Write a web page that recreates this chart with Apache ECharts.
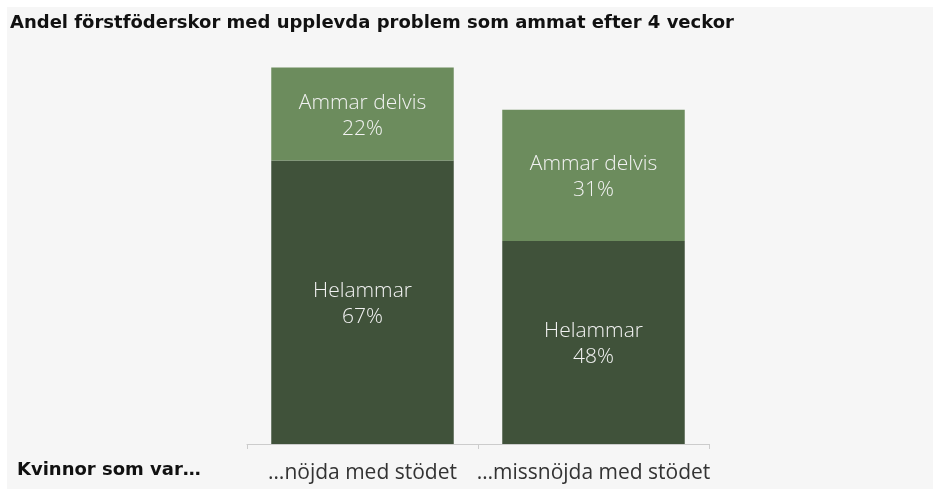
<!DOCTYPE html>
<html>
<head>
<meta charset="utf-8">
<style>
  html, body { margin: 0; padding: 0; background: #ffffff; }
  #chart { width: 933px; height: 502px; }
</style>
<script src="https://cdn.jsdelivr.net/npm/echarts@6/dist/echarts.min.js"></script>
</head>
<body>
<div id="chart"></div>
<script>
// Stödgrupper (x-axeln)
const categories = ['…nöjda med stödet', '…missnöjda med stödet'];
// Andel (%) som helammar respektive ammar delvis
const helammar = [67, 48];
const ammarDelvis = [22, 31];
const seriesNames = ['Helammar', 'Ammar delvis'];

const chart = echarts.init(document.getElementById('chart'));

const segLabel = {
  show: true,
  position: 'inside',
  offset: [0, 2],
  color: '#f2f2f2',
  fontFamily: 'Open Sans',
  fontWeight: 300,
  fontSize: 21,
  lineHeight: 26,
  formatter: p => p.seriesName + '\n' + p.value + '%'
};

chart.setOption({
  backgroundColor: '#ffffff',
  animation: false,
  graphic: [
    {
      type: 'rect', z: -10, silent: true,
      shape: { x: 7, y: 7, width: 926, height: 482 },
      style: { fill: '#f6f6f6' }
    },
    {
      type: 'text', left: 17, top: 461,
      style: { text: 'Kvinnor som var…', fontFamily: 'DejaVu Sans', fontWeight: 'bold', fontSize: 18, fill: '#111111' }
    }
  ],
  title: {
    text: 'Andel förstföderskor med upplevda problem som ammat efter 4 veckor',
    left: 10, top: 14, padding: 0,
    textStyle: { fontFamily: 'DejaVu Sans', fontWeight: 'bold', fontSize: 18, color: '#111111' }
  },
  grid: { left: 247, right: 224, top: 21, bottom: 58, containLabel: false },
  xAxis: {
    type: 'category',
    data: categories,
    axisLine: { lineStyle: { color: '#cccccc', width: 1 } },
    axisTick: { show: true, length: 5, lineStyle: { color: '#cccccc' } },
    axisLabel: { color: '#333333', fontFamily: 'Open Sans', fontSize: 21, margin: 19, interval: 0 }
  },
  yAxis: {
    type: 'value', min: 0, max: 100,
    show: false,
    splitLine: { show: false }
  },
  series: [
    {
      name: seriesNames[0], type: 'bar', stack: 'tot',
      data: helammar, barCategoryGap: '21%',
      itemStyle: { color: '#40523a' },
      label: segLabel
    },
    {
      name: seriesNames[1], type: 'bar', stack: 'tot',
      data: ammarDelvis, barCategoryGap: '21%',
      itemStyle: { color: '#6c8c5d' },
      label: segLabel
    }
  ]
});
</script>
</body>
</html>
